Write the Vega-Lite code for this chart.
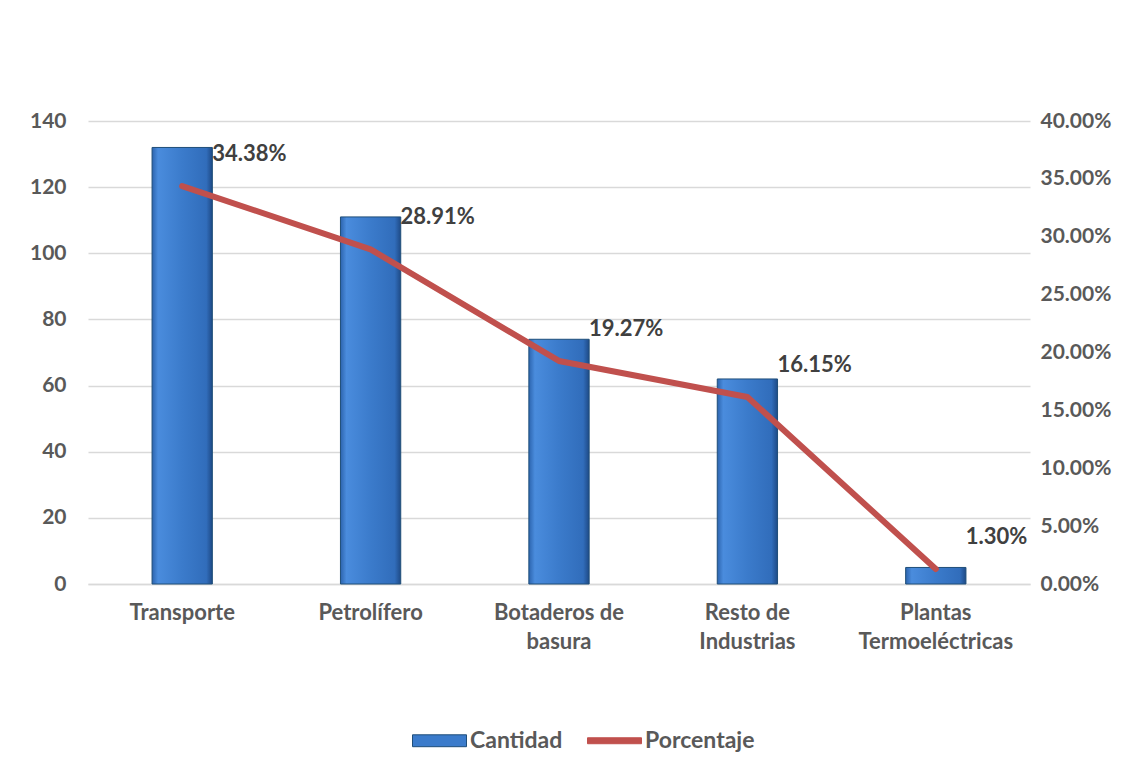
{
  "$schema": "https://vega.github.io/schema/vega-lite/v6.json",
  "autosize": {"type": "none"},
  "width": 942,
  "height": 463,
  "padding": {"left": 88, "top": 121, "right": 100, "bottom": 185},
  "background": "white",
  "data": {
    "values": [
      {"categoria": "Transporte", "cantidad": 132, "porcentaje": 0.3438},
      {"categoria": "Petrolífero", "cantidad": 111, "porcentaje": 0.2891},
      {"categoria": "Botaderos de basura", "cantidad": 74, "porcentaje": 0.1927},
      {"categoria": "Resto de Industrias", "cantidad": 62, "porcentaje": 0.1615},
      {"categoria": "Plantas Termoeléctricas", "cantidad": 5, "porcentaje": 0.013}
    ]
  },
  "config": {
    "font": "Lato",
    "view": {"stroke": null},
    "axis": {
      "labelFont": "Lato",
      "labelFontWeight": "bold",
      "labelFontSize": 21,
      "labelColor": "#595959",
      "domain": false,
      "ticks": false,
      "title": null,
      "gridColor": "#D9D9D9",
      "gridWidth": 1.3
    }
  },
  "layer": [
    {
      "mark": {
        "type": "bar",
        "fill": {
          "gradient": "linear",
          "x1": 0, "x2": 1, "y1": 0, "y2": 0,
          "stops": [
            {"offset": 0, "color": "#2C64AE"},
            {"offset": 0.1, "color": "#4A8CDD"},
            {"offset": 0.5, "color": "#3B7BCB"},
            {"offset": 0.9, "color": "#316DBB"},
            {"offset": 1, "color": "#1E4A86"}
          ]
        },
        "stroke": "#1F4E79",
        "strokeWidth": 1
      },
      "encoding": {
        "x": {
          "field": "categoria",
          "type": "nominal",
          "sort": null,
          "scale": {"paddingInner": 0.68, "paddingOuter": 0.34},
          "axis": {
            "labelAngle": 0,
            "labelPadding": 18,
            "labelLineHeight": 29,
            "labelFontSize": 22,
            "domain": true,
            "domainColor": "#D9D9D9",
            "domainWidth": 1.3,
            "labelExpr": "datum.label == 'Botaderos de basura' ? ['Botaderos de', 'basura'] : datum.label == 'Resto de Industrias' ? ['Resto de', 'Industrias'] : datum.label == 'Plantas Termoeléctricas' ? ['Plantas', 'Termoeléctricas'] : datum.label"
          }
        },
        "y": {
          "field": "cantidad",
          "type": "quantitative",
          "scale": {"domain": [0, 140], "nice": false},
          "axis": {"values": [0, 20, 40, 60, 80, 100, 120, 140], "grid": true, "labelPadding": 22}
        }
      }
    },
    {
      "mark": {"type": "line", "stroke": "#C0504D", "strokeWidth": 6, "strokeCap": "round", "strokeJoin": "round"},
      "encoding": {
        "x": {"field": "categoria", "type": "nominal", "sort": null},
        "y": {
          "field": "porcentaje",
          "type": "quantitative",
          "scale": {"domain": [0, 0.4], "nice": false},
          "axis": {"orient": "right", "format": ".2%", "values": [0, 0.05, 0.1, 0.15, 0.2, 0.25, 0.3, 0.35, 0.4], "grid": false, "labelPadding": 10}
        }
      }
    },
    {
      "mark": {"type": "text", "align": "left", "baseline": "middle", "dx": 30, "dy": -32, "fontSize": 22, "fontWeight": "bold", "color": "#404040", "font": "Lato"},
      "encoding": {
        "x": {"field": "categoria", "type": "nominal", "sort": null},
        "y": {"field": "porcentaje", "type": "quantitative", "scale": {"domain": [0, 0.4], "nice": false}, "axis": null},
        "text": {"field": "porcentaje", "type": "quantitative", "format": ".2%"}
      }
    },
    {
      "data": {"values": [{"serie": "Cantidad"}, {"serie": "Porcentaje"}]},
      "mark": {"type": "point", "filled": true, "size": 0},
      "encoding": {
        "color": {
          "field": "serie",
          "type": "nominal",
          "scale": {"domain": ["Cantidad", "Porcentaje"], "range": ["#3B7BCB", "#C0504D"]},
          "legend": {
            "orient": "none",
            "legendX": 324,
            "legendY": 592,
            "direction": "horizontal",
            "title": null,
            "labelFont": "Lato",
            "labelFontSize": 23,
            "labelFontWeight": "bold",
            "labelColor": "#595959",
            "labelOffset": 3,
            "columnPadding": 22,
            "symbolSize": 2916,
            "symbolStrokeWidth": 0,
            "symbolOpacity": 1,
            "symbolType": "M-1,-0.22H1V0.22H-1Z",
            "encode": {
              "symbols": {
                "update": {
                  "shape": {"signal": "datum.value == 'Cantidad' ? 'M-1,-0.22H1V0.22H-1Z' : 'M-1,-0.11H1V0.11H-1Z'"},
                  "stroke": {"signal": "datum.value == 'Cantidad' ? '#1F4E79' : '#C0504D'"},
                  "strokeWidth": {"value": 1}
                }
              }
            }
          }
        }
      }
    }
  ],
  "resolve": {"scale": {"y": "independent"}}
}
